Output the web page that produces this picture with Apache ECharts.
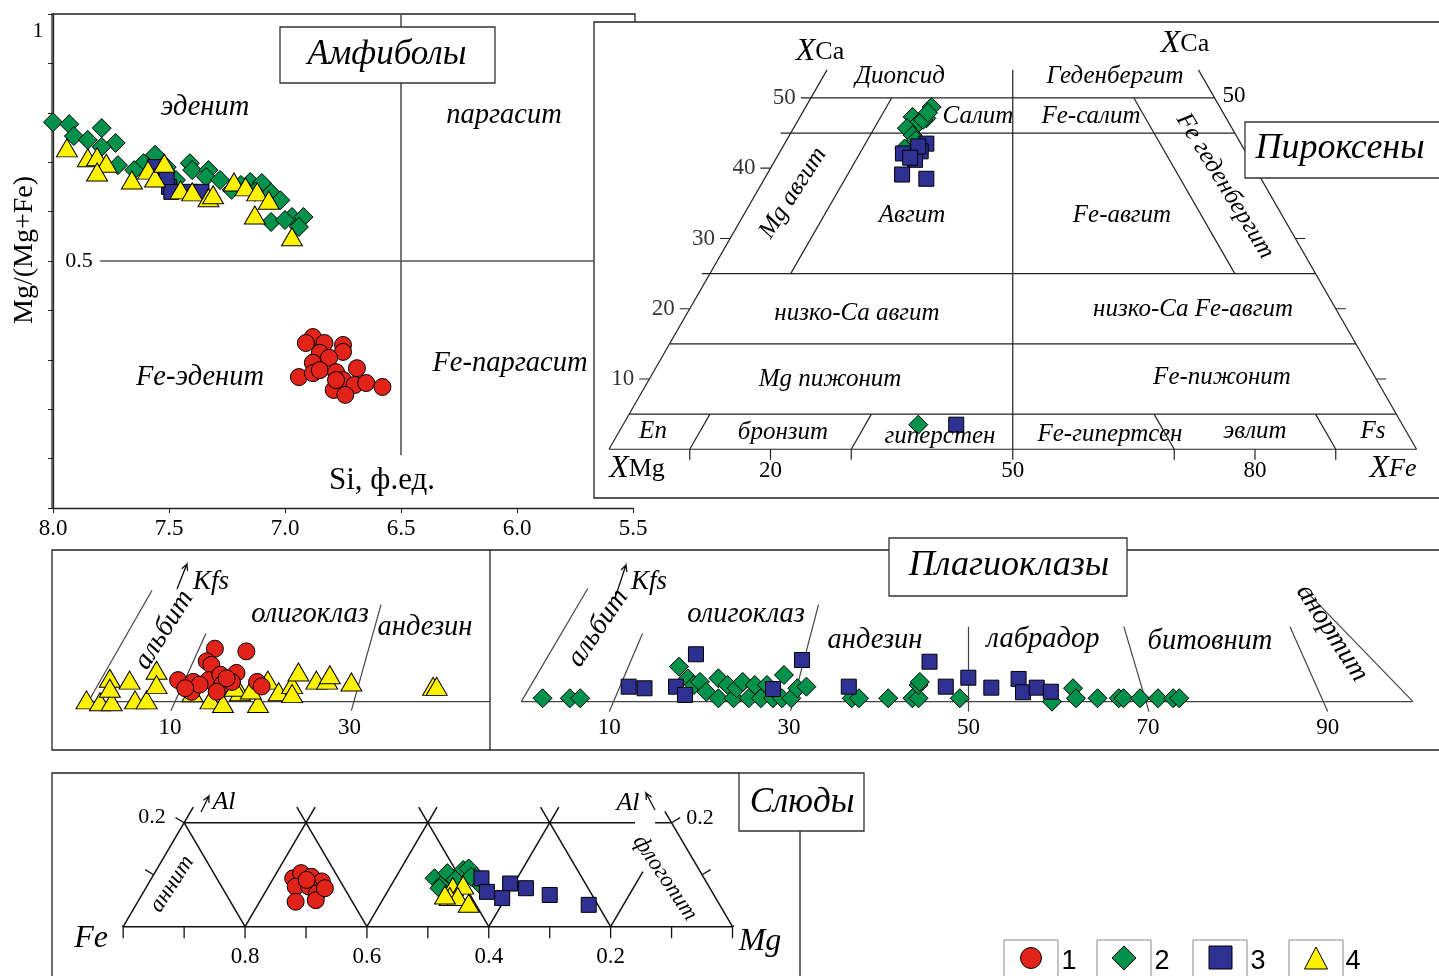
<!DOCTYPE html>
<html>
<head>
<meta charset="utf-8">
<script src="https://cdn.jsdelivr.net/npm/echarts@6/dist/echarts.min.js"></script>
<style>
html,body{margin:0;padding:0;background:#fff}
#chart{width:1439px;height:976px}
</style>
</head>
<body>
<div id="chart"></div>
<script>
// ---------- Amphiboles: [Si (f.u.), Mg/(Mg+Fe)] ----------
const amphRed = [[6.88,0.346],[6.91,0.334],[6.83,0.334],[6.75,0.330],[6.75,0.316],[6.85,0.314],[6.81,0.304],[6.88,0.294],[6.94,0.265],[6.88,0.273],[6.85,0.279],[6.78,0.275],[6.69,0.283],[6.75,0.259],[6.70,0.249],[6.65,0.253],[6.58,0.245],[6.79,0.239],[6.74,0.229],[6.78,0.259]];
const amphGreen = [[8.00,0.781],[7.93,0.777],[7.79,0.769],[7.91,0.753],[7.73,0.739],[7.85,0.745],[7.79,0.731],[7.72,0.694],[7.61,0.698],[7.56,0.715],[7.51,0.690],[7.41,0.698],[7.40,0.684],[7.33,0.684],[7.34,0.670],[7.28,0.664],[7.23,0.644],[7.15,0.660],[7.10,0.658],[7.13,0.640],[7.06,0.638],[7.02,0.623],[7.06,0.579],[6.97,0.589],[6.92,0.589],[6.94,0.569],[7.00,0.583],[7.65,0.684],[7.47,0.664],[7.19,0.654]];
const amphBlue = [[7.56,0.690],[7.50,0.650],[7.49,0.640],[7.41,0.640],[7.36,0.640],[7.51,0.670]];
const amphYellow = [[7.94,0.729],[7.85,0.709],[7.81,0.711],[7.77,0.698],[7.81,0.680],[7.66,0.664],[7.59,0.684],[7.56,0.668],[7.52,0.698],[7.45,0.644],[7.40,0.640],[7.33,0.628],[7.31,0.634],[7.22,0.660],[7.17,0.650],[7.12,0.640],[7.07,0.623],[7.13,0.593],[6.97,0.549]];

// ---------- Pyroxenes: [Fs %, Wo (XCa) %] ----------
const pyxGreen = [[15.6,48.7],[15.75,47.1],[13.95,47.3],[15.1,46.4],[14.05,45.7],[15.25,44.7],[15.2,42.8],[15.45,46.9],[16.0,44.0],[15.55,47.9],[36.55,3.5]];
const pyxBlue = [[17.55,43.5],[17.4,42.4],[15.35,42.1],[17.3,41.2],[16.75,39.1],[20.05,38.5],[16.75,43.1],[16.55,41.5],[41.25,3.5]];
const pyxBaseTicks = [20,50,80];
const pyxCaTicks = [10,20,30,40,50];

// ---------- Plagioclases: [An %, height toward Kfs] ----------
const plagRed = [[10.9,2.4],[12.6,2.2],[12.4,1.1],[15.0,5.9],[14.1,4.5],[14.6,4.1],[14.3,2.4],[15.6,3.0],[15.8,1.9],[15.2,1.1],[17.4,3.2],[18.5,5.6],[19.7,2.2],[16.9,2.2],[13.3,1.9],[16.3,2.6],[20.2,1.7],[11.7,1.5]];
const plagYellow = [[0.7,0.2],[2.2,0],[3.5,0],[3.3,2.6],[3.3,1.5],[5.5,2.4],[6.1,0.2],[7.4,0.2],[8.5,3.5],[8.5,1.9],[14.5,0.2],[15.9,-0.2],[17.8,1.1],[19.8,-0.2],[20.9,2.4],[22.1,1.1],[23.6,1.9],[23.6,0.9],[24.3,3.3],[26.3,2.4],[27.5,2.4],[27.8,3.0],[30.2,2.2],[39.3,1.7],[39.7,1.7],[17.2,1.6],[12.5,1.0],[19.0,1.3]];
const plagGreen = [[2.57,0.38],[5.61,0.38],[6.76,0.38],[17.76,3.9],[18.76,2.6],[19.43,1.86],[20.1,2.2],[20.8,1.1],[22.15,2.6],[22.15,0.38],[23.16,1.86],[23.84,0.38],[24.18,1.5],[24.86,2.2],[25.53,0.38],[26.2,1.86],[26.88,0.38],[27.56,1.86],[28.23,0.38],[29.23,0.38],[29.45,2.97],[30.26,0.38],[30.94,1.5],[31.95,1.67],[37.0,0.38],[37.8,0.38],[41.06,0.38],[43.76,0.38],[44.44,0.38],[44.44,1.86],[44.58,2.2],[49.03,0.38],[59.3,0],[61.64,1.5],[61.97,0.38],[64.37,0.38],[66.73,0.38],[67.26,0.38],[69.1,0.38],[71.1,0.38],[72.8,0.38],[73.47,0.38]];
const plagBlue = [[12.16,1.67],[13.92,1.49],[17.43,1.67],[18.43,0.75],[19.65,5.28],[28.23,1.41],[31.46,4.64],[36.67,1.67],[45.66,4.45],[47.47,1.67],[49.98,2.67],[52.54,1.56],[55.58,2.53],[56.07,1.05],[57.6,1.56],[59.17,1.11]];
const plagLeftTicks = [10,30];
const plagRightTicks = [10,30,50,70,90];

// ---------- Micas: [Fe/(Fe+Mg), Al] ----------
const micaRed = [[0.721,0.093],[0.708,0.103],[0.691,0.096],[0.674,0.087],[0.717,0.077],[0.695,0.077],[0.682,0.064],[0.717,0.048],[0.684,0.051],[0.669,0.074],[0.699,0.090]];
const micaGreen = [[0.489,0.093],[0.476,0.083],[0.468,0.103],[0.442,0.109],[0.433,0.112],[0.420,0.096],[0.416,0.083],[0.481,0.074],[0.455,0.090],[0.429,0.096]];
const micaBlue = [[0.412,0.093],[0.365,0.083],[0.339,0.074],[0.300,0.061],[0.378,0.055],[0.403,0.067],[0.236,0.042]];
const micaYellow = [[0.459,0.077],[0.442,0.080],[0.464,0.058],[0.451,0.058],[0.433,0.045],[0.472,0.061]];
const micaTicks = [0.8,0.6,0.4,0.2];

// ---------- field boundaries (in each diagram's own units) ----------
const amphGuides = [[[6.5,1.0],[6.5,0.107]],[[7.797,0.5],[5.668,0.5]]];

const pyxFrame = [
  [[0,0],[100,0]],[[0,0],[27,54]],[[100,0],[73,54]],[[50,-1.7],[50,54]],
  [[23.75,50],[75,50]],[[21.25,45],[77.5,45]],[[11.5,25],[87.5,25]],[[7.5,15],[92.5,15]],[[2.5,5],[97.5,5]],
  [[22.5,25],[35,50]],[[77.5,25],[65,50]],
  [[10,0],[12.5,5]],[[30,0],[32.5,5]],[[70,0],[67.5,5]],[[90,0],[87.5,5]]
];
const pyxTickSegs = []
  .concat([10,20,30,70,80,90].map(v => [[v,0],[v,-1.7]]))
  .concat([10,20,30,40].map(c => [[c/2,c],[c/2-1.25,c]]))
  .concat([10,20,30,40].map(c => [[100-c/2,c],[100-c/2+1.25,c]]));

const plagLeftLines = [[[0.3,0],[45.7,0]],[[0.9,0],[8.0,12.4]],[[10.1,-1.0],[14.0,7.6]],[[30.2,-1.0],[33.5,10.8]]];
const plagRightLines = [[[0.2,0],[99.4,0]],[[0.2,0],[7.6,12.6]],[[10,-1.1],[13.7,7.6]],[[30.2,-1.0],[33.3,10.8]],[[50,-1.1],[50,8.35]],[[70.1,-1.1],[67.3,8.35]],[[90,-1.1],[85.8,8.35]],[[87.5,12.4],[99.5,0]]];

const micaLines = [
  [[1,0],[0,0]],
  [[0.9,0.2],[0.16,0.2]],[[0.127,0.2],[0.1,0.2]],
  [[1,0],[0.885,0.23]],[[0.8,0],[0.9,0.2]],
  [[0.8,0],[0.685,0.23]],[[0.6,0],[0.715,0.23]],
  [[0.6,0],[0.485,0.23]],[[0.4,0],[0.515,0.23]],
  [[0.4,0],[0.285,0.23]],[[0.2,0],[0.315,0.23]],
  [[0.2,0],[0.147,0.106]],
  [[0,0],[0.111,0.222]]
];
const micaTickSegs = []
  .concat([1,0.9,0.8,0.7,0.6,0.5,0.4,0.3,0.2,0.1,0].map(v => [[v,0],[v,-0.022]]))
  .concat([[1,0],[0.95,0.1],[0.9,0.2]].map(p => [p,[p[0]+0.0141,p[1]+0.0098]]))
  .concat([[0,0],[0.05,0.1],[0.1,0.2]].map(p => [p,[p[0]-0.0141,p[1]+0.0098]]));

// ---------- styles ----------
const SERIF = 'Liberation Serif';
const RED = '#E2231A', GREEN = '#00924A', BLUE = '#2E3192', YELLOW = '#FFF200';
const MARK = {
  red:    {symbol:'circle',   size:17,      color:RED,    z:6},
  green:  {symbol:'diamond',  size:[19,19], color:GREEN,  z:3},
  blue:   {symbol:'rect',     size:[15,15], color:BLUE,   z:4},
  yellow: {symbol:'triangle', size:[21,18], color:YELLOW, z:5}
};

function pts(grid, kind, data) {
  const m = MARK[kind];
  return {type:'scatter', xAxisIndex:grid, yAxisIndex:grid, data:data,
    symbol:m.symbol, symbolSize:m.size, z:m.z, silent:true,
    itemStyle:{color:m.color, borderColor:'#000', borderWidth:1, opacity:1}};
}
function pyxPts(kind, data) {
  // ternary projection: base position = Fs + Wo/2, height = Wo
  return pts(1, kind, data.map(d => [d[0] + d[1]/2, d[1]]));
}
function segs(grid, list, color, width) {
  return {type:'lines', coordinateSystem:'cartesian2d', xAxisIndex:grid, yAxisIndex:grid,
    polyline:true, silent:true, z:2, symbol:['none','none'],
    lineStyle:{color:color, width:width, opacity:1, type:'solid'},
    data:list.map(c => ({coords:c}))};
}
function hiddenAxis(min, max, extra) {
  return Object.assign({type:'value', min:min, max:max, show:false, splitLine:{show:false}}, extra || {});
}
function labelAxis(grid, min, max, values, fmt, margin, extra) {
  return Object.assign({type:'value', gridIndex:grid, min:min, max:max, position:'bottom',
    axisLine:{show:false}, axisTick:{show:false}, splitLine:{show:false},
    axisLabel:{customValues:values, formatter:fmt, margin:margin, color:'#000',
      fontFamily:SERIF, fontSize:23}}, extra || {});
}

// ---------- text helpers ----------
function txt(x, y, s, o) {
  o = o || {};
  return {type:'text', x:x, y:y, z:o.z || 50, rotation:(o.rot || 0) * Math.PI / 180, silent:true,
    style:{text:s, fill:'#000', fontFamily:o.family || SERIF, fontSize:o.size || 25,
      fontStyle:o.italic === false ? 'normal' : 'italic',
      align:'center', verticalAlign:'middle', rich:o.rich}};
}
function xLabel(x, y, sub, subItalic) {
  return txt(x, y, '{a|X}{b|' + sub + '}', {rich:{
    a:{fontFamily:SERIF, fontStyle:'italic', fontSize:32},
    b:{fontFamily:SERIF, fontStyle:subItalic ? 'italic' : 'normal', fontSize:26}}});
}
function box(x, y, w, h, s, tx, ty, size) {
  return [
    {type:'rect', z:80, silent:true, shape:{x:x, y:y, width:w, height:h},
      style:{fill:'#fff', stroke:'#333', lineWidth:1.3}},
    txt(tx, ty, s, {size:size, z:81})
  ];
}
function arrow(x0, y0, x1, y1) {
  const a = Math.atan2(y1 - y0, x1 - x0), L = 7;
  return {type:'polyline', z:50, silent:true,
    shape:{points:[[x0,y0],[x1,y1],[x1 - L*Math.cos(a - 0.45), y1 - L*Math.sin(a - 0.45)],[x1,y1],[x1 - L*Math.cos(a + 0.45), y1 - L*Math.sin(a + 0.45)]]},
    style:{stroke:'#000', lineWidth:1.2, fill:null}};
}
function frame(points) {
  return {type:'polyline', z:1, silent:true, shape:{points:points}, style:{stroke:'#222', lineWidth:1.3, fill:null}};
}
const num = (x, y, s, size) => txt(x, y, s, {size:size || 23, italic:false});

const graphics = [
  // panel frames
  frame([[635,22],[635,14],[52,14],[52,508]]),
  {type:'rect', z:1, silent:true, shape:{x:594, y:22, width:860, height:476}, style:{fill:null, stroke:'#222', lineWidth:1.3}},
  {type:'rect', z:1, silent:true, shape:{x:52, y:550, width:1400, height:200}, style:{fill:null, stroke:'#222', lineWidth:1.3}},
  frame([[490,550],[490,750]]),
  frame([[739,773],[52,773],[52,990]]),
  frame([[800,831],[800,990]]),

  // amphiboles
  txt(205,108,'эденит',{size:28.5}), txt(504,116,'паргасит',{size:28.5}),
  txt(200,378,'Fe-эденит',{size:28.5}), txt(510,364,'Fe-паргасит',{size:28.5}),
  txt(382,481,'Si, ф.ед.',{size:31, italic:false}),
  txt(25,250,'Mg/(Mg+Fe)',{size:28, italic:false, rot:90}),
  num(38,31,'1',22), num(79,261,'0.5',22),

  // pyroxenes
  xLabel(820,52,'Ca'), xLabel(1185,44,'Ca'), xLabel(637,469,'Mg'), xLabel(1393,469,'Fe',true),
  txt(900,76,'Диопсид'), txt(1115,76,'Геденбергит'),
  txt(978,116,'Салит'), txt(1091,116,'Fe-салит'),
  txt(793,193,'Mg авгит',{rot:57}), txt(1225,186,'Fe геденбергит',{rot:-58.5}),
  txt(912,215,'Авгит'), txt(1122,215,'Fe-авгит'),
  txt(857,313,'низко-Ca авгит'), txt(1193,309,'низко-Ca Fe-авгит'),
  txt(830,379,'Mg пижонит'), txt(1222,377,'Fe-пижонит'),
  txt(653,431,'En'), txt(783,432,'бронзит'), txt(940,436,'гиперстен'),
  txt(1110,434,'Fe-гипертсен'), txt(1255,431,'эвлит'), txt(1373,431,'Fs'),
  num(1234,96,'50'),

  // plagioclases
  txt(164,630,'альбит',{size:28, rot:58}), arrow(177,589,187,564), txt(211,582,'Kfs',{size:27}),
  txt(310,615,'олигоклаз',{size:28.5}), txt(425,628,'андезин',{size:28.5}),
  txt(598,628,'альбит',{size:28, rot:56}), arrow(615,598,626,565), txt(649,582,'Kfs',{size:27}),
  txt(746,615,'олигоклаз',{size:28.5}), txt(875,641,'андезин',{size:28.5}),
  txt(1043,640,'лабрадор',{size:28.5}), txt(1210,642,'битовнит',{size:28.5}),
  txt(1332,633,'анортит',{size:28, rot:-57}),

  // micas
  txt(91,939,'Fe',{size:32}), txt(760,942,'Mg',{size:32}),
  num(152,817,'0.2',22), num(700,818,'0.2',22),
  arrow(201,812,209,796), txt(224,802,'Al',{size:26}),
  txt(628,803,'Al',{size:26}), arrow(655,810,646,793),
  txt(172,884,'аннит',{size:23, rot:57}), txt(665,878,'флогопит',{size:23, rot:-56}),

  // legend
  {type:'rect', z:50, silent:true, shape:{x:1004,y:940,width:54,height:50}, style:{fill:null, stroke:'#888', lineWidth:1}},
  {type:'circle', z:51, silent:true, shape:{cx:1031,cy:958,r:10.5}, style:{fill:RED, stroke:'#000', lineWidth:1}},
  txt(1069,962,'1',{family:'Liberation Sans', italic:false, size:27}),
  {type:'rect', z:50, silent:true, shape:{x:1097,y:940,width:54,height:50}, style:{fill:null, stroke:'#888', lineWidth:1}},
  {type:'polygon', z:51, silent:true, shape:{points:[[1124,946],[1136,958],[1124,970],[1112,958]]}, style:{fill:GREEN, stroke:'#000', lineWidth:1}},
  txt(1162,962,'2',{family:'Liberation Sans', italic:false, size:27}),
  {type:'rect', z:50, silent:true, shape:{x:1193,y:940,width:54,height:50}, style:{fill:null, stroke:'#888', lineWidth:1}},
  {type:'rect', z:51, silent:true, shape:{x:1209,y:946,width:23,height:23}, style:{fill:BLUE, stroke:'#000', lineWidth:1}},
  txt(1258,962,'3',{family:'Liberation Sans', italic:false, size:27}),
  {type:'rect', z:50, silent:true, shape:{x:1289,y:940,width:54,height:50}, style:{fill:null, stroke:'#888', lineWidth:1}},
  {type:'polygon', z:51, silent:true, shape:{points:[[1316,947],[1327.5,969],[1304.5,969]]}, style:{fill:YELLOW, stroke:'#000', lineWidth:1}},
  txt(1353,962,'4',{family:'Liberation Sans', italic:false, size:27})
]
.concat(box(280,27,215,56,'Амфиболы',387,55,35))
.concat(box(1245,122,210,56,'Пироксены',1340,149,36))
.concat(box(889,538,238,58,'Плагиоклазы',1009,566,36))
.concat(box(739,773,125,58,'Слюды',802,803,35));

const option = {
  animation:false,
  backgroundColor:'#fff',
  grid:[
    {left:53, right:806, top:14, bottom:468},          // amphiboles
    {left:609, right:22.5, top:27.7, bottom:516.9},    // pyroxenes
    {left:80.2, right:460.8, top:558, bottom:264},     // plagioclases, left
    {left:519.5, right:21.5, top:558, bottom:264},     // plagioclases, right
    {left:123.2, right:706.5, top:770.7, bottom:36}    // micas
  ],
  xAxis:[
    {type:'value', gridIndex:0, min:5.5, max:8.0, interval:0.5, inverse:true,
      axisLine:{show:true, onZero:false, lineStyle:{color:'#222', width:1.3}},
      axisTick:{show:true, length:5, lineStyle:{color:'#222'}},
      axisLabel:{color:'#000', fontFamily:SERIF, fontSize:23, margin:9, formatter:v => v.toFixed(1)},
      splitLine:{show:false}},
    labelAxis(1, 0, 100, pyxBaseTicks, v => String(v), 0),
    labelAxis(2, 0, 100, plagLeftTicks, v => String(v), 4),
    labelAxis(3, 0, 100, plagRightTicks, v => String(v), 4),
    labelAxis(4, 0, 1, micaTicks, v => v.toFixed(1), 5, {inverse:true})
  ],
  yAxis:[
    {type:'value', gridIndex:0, min:0, max:1, interval:0.1,
      axisLine:{show:true, onZero:false, lineStyle:{color:'#222', width:1.3}},
      axisTick:{show:true, length:5, lineStyle:{color:'#222'}},
      axisLabel:{show:false}, splitLine:{show:false}},
    hiddenAxis(-1.4, 60, {gridIndex:1}),
    hiddenAxis(-1.15, 16, {gridIndex:2}),
    hiddenAxis(-1.15, 16, {gridIndex:3}),
    hiddenAxis(-0.0256, 0.3, {gridIndex:4})
  ],
  graphic:{elements:graphics},
  series:[
    // amphiboles
    segs(0, amphGuides, '#555', 1.6),
    pts(0,'green',amphGreen), pts(0,'blue',amphBlue), pts(0,'yellow',amphYellow), pts(0,'red',amphRed),
    // pyroxenes
    segs(1, pyxFrame, '#222', 1.2), segs(1, pyxTickSegs, '#222', 1.2),
    pyxPts('blue', pyxBlue), pyxPts('green', pyxGreen),
    {type:'scatter', xAxisIndex:1, yAxisIndex:1, silent:true, symbolSize:0,
      data:pyxCaTicks.map(c => [c/2 - 1.25, c]),
      label:{show:true, position:'left', distance:5, color:'#000', fontFamily:SERIF, fontSize:23,
        formatter:p => String(p.value[1])}},
    // plagioclases
    segs(2, plagLeftLines, '#444', 1.2), segs(3, plagRightLines, '#444', 1.2),
    pts(2,'yellow',plagYellow), pts(2,'red',plagRed),
    pts(3,'green',plagGreen), pts(3,'blue',plagBlue),
    // micas
    segs(4, micaLines, '#111', 1.5), segs(4, micaTickSegs, '#111', 1.3),
    pts(4,'blue',micaBlue), pts(4,'green',micaGreen), pts(4,'yellow',micaYellow), pts(4,'red',micaRed)
  ]
};

const chart = echarts.init(document.getElementById('chart'), null, {renderer:'canvas'});
chart.setOption(option);
</script>
</body>
</html>
